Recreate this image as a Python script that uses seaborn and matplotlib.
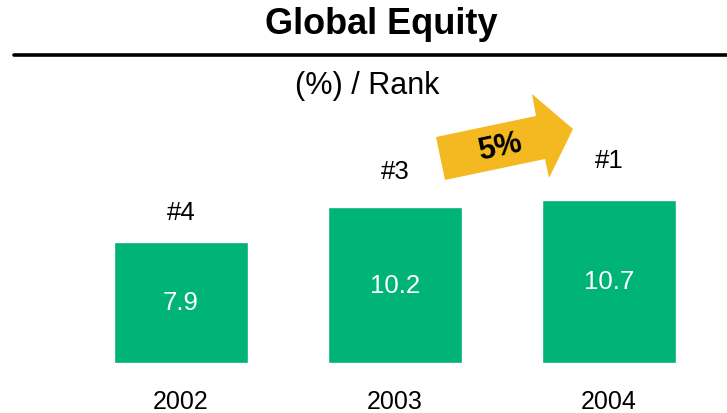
import matplotlib
matplotlib.use("Agg")
import matplotlib.pyplot as plt
import seaborn as sns
import pandas as pd
from matplotlib.patches import Polygon
from matplotlib.lines import Line2D

years = ["2002", "2003", "2004"]
values = [7.9, 10.2, 10.7]
ranks = ["#4", "#3", "#1"]
growth_label = "5%"

sns.set_theme(style="white")
plt.rcParams['font.family'] = ['Liberation Sans', 'DejaVu Sans']

df = pd.DataFrame({"year": years, "value": values})

fig = plt.figure(figsize=(7.27, 4.14), dpi=100)
ax = fig.add_axes([0, 0, 1, 1])
sns.barplot(data=df, x="year", y="value", color="#00B377", width=0.627,
            saturation=1, ax=ax)
ax.set_xlim(-0.846, 2.551)
ax.set_ylim(-3.3, 23.85)
ax.axis("off")

rank_offsets = [2.0, 2.4, 2.6]
for i, (v, r) in enumerate(zip(values, ranks)):
    ax.text(i, v / 2, f"{v:.1f}", ha="center", va="center", color="white", fontsize=18.5)
    ax.text(i, v + rank_offsets[i], r, ha="center", va="center", color="black", fontsize=18.5)
    ax.text(i, -2.5, years[i], ha="center", va="center", color="black", fontsize=18)

W, H = 727, 414
def fx(x):
    return x / W
def fy(y):
    return 1 - y / H

fig.text(fx(381), fy(25), "Global Equity", ha="center", va="center",
         fontsize=26, fontweight="bold", color="black")
fig.add_artist(Line2D([fx(14), fx(727)], [fy(55.5), fy(55.5)], color="black", lw=2.6,
                      transform=fig.transFigure))
fig.text(fx(367), fy(86), "(%) / Rank", ha="center", va="center", fontsize=22, color="black")

arrow_pts = [(436, 138), (536, 117), (532, 95), (573, 130), (549, 179), (545, 160), (445, 181)]
fig.add_artist(Polygon([(fx(x), fy(y)) for x, y in arrow_pts], closed=True,
                       facecolor="#F4B920", edgecolor="none", transform=fig.transFigure))
fig.text(fx(500), fy(148), growth_label, ha="center", va="center", fontsize=22,
         fontweight="bold", rotation=12, color="black")

fig.savefig("out.png", dpi=100)
